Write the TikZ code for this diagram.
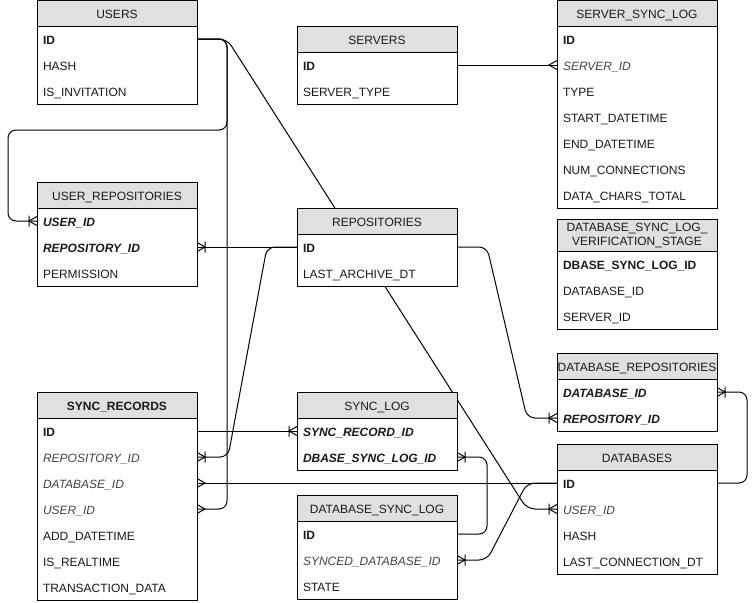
\documentclass[tikz,border=0pt]{standalone}
\usepackage{fontspec}
\setmainfont{Liberation Sans}
\usetikzlibrary{positioning,backgrounds}

\definecolor{headgray}{HTML}{E0E0E0}
\definecolor{fldtext}{HTML}{1A1A1A}
\definecolor{fktext}{HTML}{444444}

\newcommand{\fs}{\fontsize{12pt}{14pt}\selectfont}

% crow's foot ends
\pgfarrowsdeclare{many}{many}
{\pgfarrowsleftextend{-9pt}\pgfarrowsrightextend{0pt}}
{
  \pgfsetdash{}{0pt}
  \pgfpathmoveto{\pgfpoint{0pt}{4.5pt}}
  \pgfpathlineto{\pgfpoint{-8pt}{0pt}}
  \pgfpathlineto{\pgfpoint{0pt}{-4.5pt}}
  \pgfusepathqstroke
}
\pgfarrowsdeclare{onemany}{onemany}
{\pgfarrowsleftextend{-9pt}\pgfarrowsrightextend{0pt}}
{
  \pgfsetdash{}{0pt}
  \pgfpathmoveto{\pgfpoint{0pt}{4.5pt}}
  \pgfpathlineto{\pgfpoint{-8pt}{0pt}}
  \pgfpathlineto{\pgfpoint{0pt}{-4.5pt}}
  \pgfpathmoveto{\pgfpoint{-8pt}{5.5pt}}
  \pgfpathlineto{\pgfpoint{-8pt}{-5.5pt}}
  \pgfusepathqstroke
}

\tikzset{
  tblbase/.style={draw, fill=headgray, line width=1pt, minimum width=160pt, minimum height=26pt,
    inner sep=0pt, outer sep=0pt, font=\fs, text=fldtext},
  tbl/.style={tblbase, text height=12pt, text depth=1.4pt},
  fld/.style={fill=white, minimum width=160pt, minimum height=26pt, text width=148pt,
    text height=12pt, text depth=1.4pt,
    inner xsep=6pt, inner ysep=0pt, outer sep=0pt, align=left, font=\fs, text=fldtext},
  key/.style={fld, font=\fs\bfseries},
  fk/.style={fld, font=\fs\itshape, text=fktext},
  pfk/.style={fld, font=\fs\bfseries\itshape},
  frame/.style={line width=1pt},
  link/.style={line width=1pt, rounded corners=8pt},
}

\begin{document}
\begin{tikzpicture}[x=1pt,y=-1pt]
\useasboundingbox (0,0) rectangle (756,603);

% USERS
\node[tbl, anchor=north] (users) at (117,0) {USERS};
\node[key, below=0pt of users] (users-id) {ID};
\node[fld, below=0pt of users-id] (users-hash) {HASH};
\node[fld, below=0pt of users-hash] (users-inv) {IS\_INVITATION};
\draw[frame] (users.south west) rectangle (users-inv.south east);

% SERVERS
\node[tbl, anchor=north] (servers) at (377,26) {SERVERS};
\node[key, below=0pt of servers] (servers-id) {ID};
\node[fld, below=0pt of servers-id] (servers-type) {SERVER\_TYPE};
\draw[frame] (servers.south west) rectangle (servers-type.south east);

% SERVER_SYNC_LOG
\node[tbl, anchor=north] (ssl) at (637,0) {SERVER\_SYNC\_LOG};
\node[key, below=0pt of ssl] (ssl-id) {ID};
\node[fk, below=0pt of ssl-id] (ssl-server) {SERVER\_ID};
\node[fld, below=0pt of ssl-server] (ssl-type) {TYPE};
\node[fld, below=0pt of ssl-type] (ssl-start) {START\_DATETIME};
\node[fld, below=0pt of ssl-start] (ssl-end) {END\_DATETIME};
\node[fld, below=0pt of ssl-end] (ssl-conn) {NUM\_CONNECTIONS};
\node[fld, below=0pt of ssl-conn] (ssl-chars) {DATA\_CHARS\_TOTAL};
\draw[frame] (ssl.south west) rectangle (ssl-chars.south east);

% REPOSITORIES
\node[tbl, anchor=north] (repos) at (377,208) {REPOSITORIES};
\node[key, below=0pt of repos] (repos-id) {ID};
\node[fld, below=0pt of repos-id] (repos-arch) {LAST\_ARCHIVE\_DT};
\draw[frame] (repos.south west) rectangle (repos-arch.south east);

% DATABASE_SYNC_LOG_VERIFICATION_STAGE
\node[tblbase, anchor=north, minimum height=32pt, align=center] (vstage) at (637,219)
  {DATABASE\_SYNC\_LOG\_\\VERIFICATION\_STAGE};
\node[key, below=0pt of vstage] (vstage-log) {DBASE\_SYNC\_LOG\_ID};
\node[fld, below=0pt of vstage-log] (vstage-db) {DATABASE\_ID};
\node[fld, below=0pt of vstage-db] (vstage-server) {SERVER\_ID};
\draw[frame] (vstage.south west) rectangle (vstage-server.south east);

% USER_REPOSITORIES
\node[tbl, anchor=north] (urepos) at (117,182) {USER\_REPOSITORIES};
\node[pfk, below=0pt of urepos] (urepos-user) {USER\_ID};
\node[pfk, below=0pt of urepos-user] (urepos-repo) {REPOSITORY\_ID};
\node[fld, below=0pt of urepos-repo] (urepos-perm) {PERMISSION};
\draw[frame] (urepos.south west) rectangle (urepos-perm.south east);

% SYNC_RECORDS
\node[tbl, anchor=north, font=\fs\bfseries] (srec) at (117,392) {SYNC\_RECORDS};
\node[key, below=0pt of srec] (srec-id) {ID};
\node[fk, below=0pt of srec-id] (srec-repo) {REPOSITORY\_ID};
\node[fk, below=0pt of srec-repo] (srec-db) {DATABASE\_ID};
\node[fk, below=0pt of srec-db] (srec-user) {USER\_ID};
\node[fld, below=0pt of srec-user] (srec-add) {ADD\_DATETIME};
\node[fld, below=0pt of srec-add] (srec-rt) {IS\_REALTIME};
\node[fld, below=0pt of srec-rt] (srec-data) {TRANSACTION\_DATA};
\draw[frame] (srec.south west) rectangle (srec-data.south east);

% SYNC_LOG
\node[tbl, anchor=north] (slog) at (377,392) {SYNC\_LOG};
\node[pfk, below=0pt of slog] (slog-rec) {SYNC\_RECORD\_ID};
\node[pfk, below=0pt of slog-rec] (slog-dlog) {DBASE\_SYNC\_LOG\_ID};
\draw[frame] (slog.south west) rectangle (slog-dlog.south east);

% DATABASE_SYNC_LOG
\node[tbl, anchor=north] (dlog) at (377,495) {DATABASE\_SYNC\_LOG};
\node[key, below=0pt of dlog] (dlog-id) {ID};
\node[fk, below=0pt of dlog-id] (dlog-db) {SYNCED\_DATABASE\_ID};
\node[fld, below=0pt of dlog-db] (dlog-state) {STATE};
\draw[frame] (dlog.south west) rectangle (dlog-state.south east);

% DATABASE_REPOSITORIES
\node[tbl, anchor=north] (drepos) at (637,353) {DATABASE\_REPOSITORIES};
\node[pfk, below=0pt of drepos] (drepos-db) {DATABASE\_ID};
\node[pfk, below=0pt of drepos-db] (drepos-repo) {REPOSITORY\_ID};
\draw[frame] (drepos.south west) rectangle (drepos-repo.south east);

% DATABASES
\node[tbl, anchor=north] (dbs) at (637,444) {DATABASES};
\node[key, below=0pt of dbs] (dbs-id) {ID};
\node[fk, below=0pt of dbs-id] (dbs-user) {USER\_ID};
\node[fld, below=0pt of dbs-user] (dbs-hash) {HASH};
\node[fld, below=0pt of dbs-hash] (dbs-conn) {LAST\_CONNECTION\_DT};
\draw[frame] (dbs.south west) rectangle (dbs-conn.south east);

% relations
\coordinate (ubend) at (8,130);
\begin{scope}[on background layer]
  \draw[link, -many] (users-id.east) -- ++(30,0) |- (srec-user.east);
  \draw[link, -onemany] (users-id.east) -- ++(30,0) |- (ubend) |- (urepos-user.west);
  \draw[link, -onemany] (users-id.east) -- ++(30,0) -- ([xshift=-30pt]dbs-user.west) -- (dbs-user.west);
  \draw[link, -many] (servers-id.east) -- (ssl-server.west);
  \draw[link, -onemany] (repos-id.west) -- (urepos-repo.east);
  \draw[link, -onemany] (repos-id.west) -- ++(-30,0) -- ([xshift=31pt]srec-repo.east) -- (srec-repo.east);
  \draw[link, -onemany] (repos-id.east) -- ++(30,0) -- ([xshift=-30pt]drepos-repo.west) -- (drepos-repo.west);
  \draw[link, -onemany] (srec-id.east) -- (slog-rec.west);
  \draw[link, -many] (dbs-id.west) -- (srec-db.east);
  \draw[link, -onemany] (dbs-id.west) -- ++(-30,0) -- ([xshift=30pt]dlog-db.east) -- (dlog-db.east);
  \draw[link, -onemany] (dbs-id.east) -- ++(30,0) |- (drepos-db.east);
  \draw[link, -onemany] (dlog-id.east) -- ++(30,0) |- (slog-dlog.east);
\end{scope}

\end{tikzpicture}
\end{document}
